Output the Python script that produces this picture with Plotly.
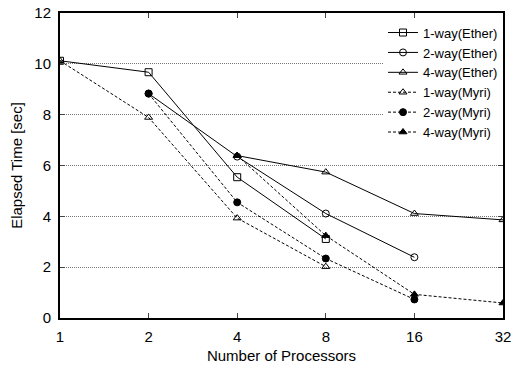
import plotly.graph_objects as go

procs = [1, 2, 4, 8, 16, 32]

x_1way = [1, 2, 4, 8]
x_2way = [2, 4, 8, 16]
x_4way = [4, 8, 16, 32]

ether_1way = [10.12, 9.67, 5.54, 3.11]
ether_2way = [8.83, 6.35, 4.11, 2.39]
ether_4way = [6.39, 5.74, 4.11, 3.86]
myri_1way = [10.12, 7.89, 3.93, 2.02]
myri_2way = [8.83, 4.55, 2.34, 0.73]
myri_4way = [6.39, 3.24, 0.93, 0.59]

series = [
    ("1-way(Ether)", x_1way, ether_1way, "solid", "square-open"),
    ("2-way(Ether)", x_2way, ether_2way, "solid", "circle-open"),
    ("4-way(Ether)", x_4way, ether_4way, "solid", "triangle-up-open"),
    ("1-way(Myri)", x_1way, myri_1way, "3px,2px", "triangle-up-open"),
    ("2-way(Myri)", x_2way, myri_2way, "3px,2px", "circle"),
    ("4-way(Myri)", x_4way, myri_4way, "3px,2px", "triangle-up"),
]

fig = go.Figure()
for name, xs, ys, dash, sym in series:
    fig.add_trace(go.Scatter(
        x=xs, y=ys, name=name, mode="lines+markers",
        line=dict(color="black", width=1, dash=dash),
        marker=dict(symbol=sym, size=7, color="black",
                    line=dict(color="black", width=1)),
    ))

font = "Liberation Sans, Arial, Helvetica, sans-serif"
fig.update_layout(
    width=512, height=367,
    margin=dict(l=60, r=9, t=13, b=49),
    paper_bgcolor="white", plot_bgcolor="white",
    font=dict(family=font, size=15, color="black"),
    showlegend=True,
    legend=dict(x=1.0, y=0.985, xanchor="right", yanchor="top",
                bgcolor="white", borderwidth=0,
                font=dict(size=13), tracegroupgap=0,
                itemwidth=30),
    xaxis=dict(type="log", range=[0, 1.50515], tickvals=procs,
               ticktext=[str(p) for p in procs],
               ticks="inside", ticklen=5, mirror="ticks",
               showline=True, linecolor="black", linewidth=2,
               showgrid=False, zeroline=False, ticklabelstandoff=4,
               automargin=False,
               title=dict(text="Number of Processors", font=dict(size=15), standoff=6)),
    yaxis=dict(range=[0, 12], dtick=2, ticks="inside", ticklen=5,
               mirror="ticks", showline=True, linecolor="black",
               linewidth=2, showgrid=True, gridcolor="#777777",
               griddash="1px,1px", gridwidth=1, zeroline=False,
               ticklabelstandoff=4, automargin=False,
               title=dict(text="Elapsed Time [sec]", font=dict(size=15), standoff=8)),
)

fig.write_html("out.html")
